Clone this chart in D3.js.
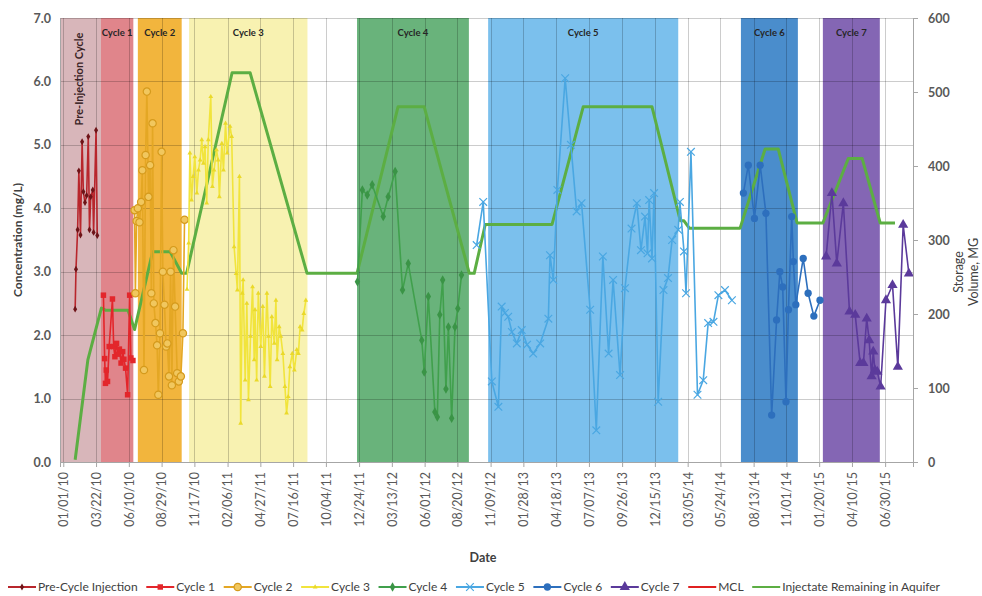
<!DOCTYPE html>
<html>
<head>
<meta charset="utf-8">
<script src="https://cdn.jsdelivr.net/npm/d3@7"></script>
<style>
    body { margin: 0; background: #fff; }
    svg { font-family: Lato, "Open Sans", sans-serif; }
</style>
</head>
<body>
<div id="main"></div>
<script>
const ctx = {
    W: 982,
    H: 596,
    left: 60,
    top: 18,
    right: 913,
    bottom: 462,
};

// ---- data ----
const xMin = "2009-12-24";
const xMax = "2015-09-06";
const tickDates = ["01/01/10", "03/22/10", "06/10/10", "08/29/10", "11/17/10", "02/06/11", "04/27/11",
    "07/16/11", "10/04/11", "12/24/11", "03/13/12", "06/01/12", "08/20/12", "11/09/12", "01/28/13",
    "04/18/13", "07/07/13", "09/26/13", "12/15/13", "03/05/14", "05/24/14", "08/13/14", "11/01/14",
    "01/20/15", "04/10/15", "06/30/15"];
const concTicks = [0, 1, 2, 3, 4, 5, 6, 7];
const volTicks = [0, 100, 200, 300, 400, 500, 600];

const cycleNames = ["Pre-Injection Cycle", "Cycle 1", "Cycle 2", "Cycle 3", "Cycle 4", "Cycle 5", "Cycle 6", "Cycle 7"];
const cycleStart = ["2009-12-24", "2010-04-03", "2010-07-02", "2010-11-04", "2011-12-19", "2012-11-03", "2014-07-13", "2015-01-29"];
const cycleEnd = ["2010-04-03", "2010-06-21", "2010-10-17", "2011-08-20", "2012-09-17", "2014-02-10", "2014-11-29", "2015-06-17"];

const mclValue = 10;

const preCycle = [["2010-01-30", 2.41], ["2010-02-01", 3.04], ["2010-02-05", 3.66], ["2010-02-08", 4.59],
    ["2010-02-12", 3.58], ["2010-02-16", 5.05], ["2010-02-19", 4.26], ["2010-02-23", 4.09], ["2010-02-27", 4.20],
    ["2010-03-03", 5.13], ["2010-03-06", 3.66], ["2010-03-09", 4.18], ["2010-03-14", 4.29], ["2010-03-16", 3.62],
    ["2010-03-22", 5.23], ["2010-03-25", 3.57]];

const cycle1 = [["2010-04-09", 2.63], ["2010-04-12", 1.63], ["2010-04-14", 1.24], ["2010-04-16", 1.45],
    ["2010-04-19", 1.27], ["2010-04-23", 1.82], ["2010-05-01", 2.57], ["2010-05-04", 1.82], ["2010-05-07", 1.66],
    ["2010-05-11", 1.87], ["2010-05-15", 1.70], ["2010-05-18", 1.78], ["2010-05-22", 1.56], ["2010-05-26", 1.74],
    ["2010-05-29", 1.62], ["2010-06-02", 1.48], ["2010-06-07", 1.06], ["2010-06-12", 2.63], ["2010-06-15", 1.64],
    ["2010-06-20", 1.60]];

const cycle2 = [["2010-06-24", 3.97], ["2010-06-26", 2.66], ["2010-06-29", 3.80], ["2010-07-02", 4.00],
    ["2010-07-06", 3.78], ["2010-07-10", 4.10], ["2010-07-13", 4.60], ["2010-07-17", 1.45], ["2010-07-21", 4.84],
    ["2010-07-24", 5.84], ["2010-07-28", 4.18], ["2010-08-01", 4.68], ["2010-08-04", 2.66], ["2010-08-07", 5.34],
    ["2010-08-10", 2.50], ["2010-08-14", 2.19], ["2010-08-18", 1.84], ["2010-08-21", 1.06], ["2010-08-25", 2.03],
    ["2010-08-29", 4.89], ["2010-09-01", 3.00], ["2010-09-05", 2.48], ["2010-09-09", 1.82], ["2010-09-12", 1.87],
    ["2010-09-16", 1.35], ["2010-09-20", 3.00], ["2010-09-23", 1.21], ["2010-09-27", 3.34], ["2010-10-01", 2.45],
    ["2010-10-06", 1.40], ["2010-10-10", 1.27], ["2010-10-15", 1.35], ["2010-10-20", 2.03], ["2010-10-24", 3.82]];

const cycle3 = [["2010-10-30", 2.72], ["2010-11-03", 3.45], ["2010-11-06", 4.87], ["2010-11-10", 4.13],
    ["2010-11-14", 4.50], ["2010-11-18", 4.81], ["2010-11-23", 4.24], ["2010-11-27", 4.60], ["2010-12-01", 4.76],
    ["2010-12-05", 5.08], ["2010-12-09", 4.71], ["2010-12-13", 4.97], ["2010-12-17", 4.08], ["2010-12-21", 5.08],
    ["2010-12-27", 5.76], ["2010-12-31", 4.34], ["2011-01-04", 4.60], ["2011-01-10", 4.92], ["2011-01-14", 4.76],
    ["2011-01-17", 4.18], ["2011-01-23", 5.02], ["2011-01-27", 4.60], ["2011-02-01", 5.34], ["2011-02-05", 4.87],
    ["2011-02-12", 5.29], ["2011-02-16", 5.13], ["2011-02-22", 3.39], ["2011-02-27", 2.97], ["2011-03-02", 2.71],
    ["2011-03-07", 4.50], ["2011-03-10", 0.61], ["2011-03-14", 2.66], ["2011-03-16", 2.87], ["2011-03-21", 1.29],
    ["2011-03-25", 2.50], ["2011-03-29", 0.98], ["2011-04-03", 1.98], ["2011-04-08", 2.76], ["2011-04-12", 1.61],
    ["2011-04-14", 2.40], ["2011-04-18", 1.29], ["2011-04-22", 2.66], ["2011-04-28", 1.82], ["2011-05-03", 2.45],
    ["2011-05-07", 1.35], ["2011-05-13", 2.66], ["2011-05-17", 1.98], ["2011-05-21", 1.19], ["2011-05-25", 2.29],
    ["2011-05-31", 1.87], ["2011-06-04", 2.55], ["2011-06-07", 1.61], ["2011-06-12", 2.13], ["2011-06-16", 1.98],
    ["2011-06-21", 1.71], ["2011-06-26", 1.19], ["2011-06-30", 0.77], ["2011-07-04", 1.03], ["2011-07-08", 1.50],
    ["2011-07-14", 1.71], ["2011-07-19", 1.45], ["2011-07-25", 1.77], ["2011-07-29", 1.71], ["2011-08-02", 2.13],
    ["2011-08-07", 2.08], ["2011-08-11", 2.34], ["2011-08-16", 2.55]];

const cycle4 = [["2011-12-20", 2.84], ["2012-01-01", 4.29], ["2012-01-13", 4.21], ["2012-01-25", 4.37],
    ["2012-02-21", 3.87], ["2012-03-04", 4.18], ["2012-03-21", 4.58], ["2012-04-08", 2.71], ["2012-04-22", 3.13],
    ["2012-05-25", 1.92], ["2012-05-31", 1.42], ["2012-06-10", 2.61], ["2012-06-26", 0.79], ["2012-07-02", 0.71],
    ["2012-07-08", 2.32], ["2012-07-15", 2.87], ["2012-07-23", 1.15], ["2012-07-29", 2.13], ["2012-08-06", 0.69],
    ["2012-08-14", 2.13], ["2012-08-21", 2.42], ["2012-08-30", 2.95]];

const cycle5 = [["2012-10-06", 3.42], ["2012-10-22", 4.10], ["2012-11-12", 1.27], ["2012-11-28", 0.87],
    ["2012-12-06", 2.45], ["2012-12-14", 2.35], ["2012-12-22", 2.29], ["2012-12-31", 2.05], ["2013-01-12", 1.87],
    ["2013-01-24", 2.08], ["2013-02-06", 1.85], ["2013-02-21", 1.71], ["2013-03-10", 1.87], ["2013-03-30", 2.26],
    ["2013-04-03", 3.26], ["2013-04-11", 2.87], ["2013-04-21", 4.29], ["2013-05-10", 6.05], ["2013-05-24", 5.00],
    ["2013-06-07", 3.95], ["2013-06-19", 4.08], ["2013-07-10", 2.40], ["2013-07-25", 0.50], ["2013-08-10", 3.24],
    ["2013-08-24", 1.71], ["2013-09-04", 2.87], ["2013-09-21", 1.37], ["2013-10-03", 2.74], ["2013-10-19", 3.68],
    ["2013-11-01", 4.08], ["2013-11-11", 3.34], ["2013-11-21", 3.87], ["2013-11-27", 3.29], ["2013-12-01", 4.13],
    ["2013-12-08", 3.21], ["2013-12-13", 4.24], ["2013-12-23", 0.95], ["2014-01-05", 2.71], ["2014-01-16", 2.90],
    ["2014-01-26", 3.50], ["2014-02-10", 3.66], ["2014-02-14", 4.10], ["2014-02-24", 3.32], ["2014-03-01", 2.66],
    ["2014-03-13", 4.89], ["2014-03-29", 1.06], ["2014-04-12", 1.29], ["2014-04-24", 2.19], ["2014-05-07", 2.21],
    ["2014-05-19", 2.63], ["2014-06-04", 2.71], ["2014-06-21", 2.55]];

const cycle6 = [["2014-07-19", 4.24], ["2014-07-31", 4.68], ["2014-08-15", 3.84], ["2014-08-29", 4.68],
    ["2014-09-12", 3.92], ["2014-09-26", 0.74], ["2014-10-08", 2.24], ["2014-10-16", 3.00], ["2014-10-23", 2.76],
    ["2014-10-31", 0.95], ["2014-11-06", 2.40], ["2014-11-14", 3.87], ["2014-11-18", 3.16], ["2014-11-24", 2.48],
    ["2014-12-12", 3.21], ["2014-12-24", 2.66], ["2015-01-07", 2.30], ["2015-01-22", 2.55]];

const cycle7 = [["2015-02-06", 3.24], ["2015-02-20", 4.24], ["2015-03-04", 3.13], ["2015-03-20", 4.08],
    ["2015-04-04", 2.37], ["2015-04-18", 2.32], ["2015-04-30", 1.56], ["2015-05-08", 1.56], ["2015-05-16", 2.26],
    ["2015-05-22", 1.92], ["2015-05-28", 1.35], ["2015-06-01", 1.74], ["2015-06-05", 1.45], ["2015-06-11", 1.42],
    ["2015-06-19", 1.19], ["2015-07-02", 2.55], ["2015-07-18", 2.79], ["2015-07-31", 1.50], ["2015-08-13", 3.74],
    ["2015-08-27", 2.97]];

// storage volume (MG), right axis
const injectate = [["2010-01-30", 3], ["2010-03-02", 138], ["2010-04-04", 208], ["2010-04-15", 205],
    ["2010-06-08", 205], ["2010-06-24", 179], ["2010-08-07", 284], ["2010-09-19", 284], ["2010-10-17", 255],
    ["2010-10-29", 255], ["2011-02-17", 526], ["2011-04-02", 526], ["2011-08-19", 255], ["2011-12-19", 255],
    ["2012-03-28", 480], ["2012-05-31", 480], ["2012-09-18", 255], ["2012-09-30", 255], ["2012-10-27", 321],
    ["2013-04-08", 321], ["2013-06-23", 480], ["2013-12-08", 480], ["2014-02-15", 326], ["2014-02-24", 326],
    ["2014-03-09", 316], ["2014-07-11", 316], ["2014-09-10", 423], ["2014-10-12", 423], ["2014-11-27", 323],
    ["2015-01-29", 323], ["2015-04-01", 410], ["2015-05-05", 410], ["2015-06-18", 323], ["2015-07-24", 323]];

// ---- styles ----
const bandColors = ["#d8b6ba", "#e0858b", "#f2b53d", "#f8f2b1", "#69b37b", "#7bc0ed", "#4a8dcc", "#8466b4"];

const seriesStyle = [
    { name: "Pre-Cycle Injection", data: preCycle, color: "#b8262c", marker: d3.symbolDiamond, size: 14, fill: "#6e1418" },
    { name: "Cycle 1", data: cycle1, color: "#e3262b", marker: d3.symbolSquare, size: 30, fill: "#e3262b" },
    { name: "Cycle 2", data: cycle2, color: "#e4a724", marker: d3.symbolCircle, size: 42, fill: "#f1c75e", stroke: "#d59a1c" },
    { name: "Cycle 3", data: cycle3, color: "#f1e43c", marker: d3.symbolTriangle, size: 10, fill: "#ead92a" },
    { name: "Cycle 4", data: cycle4, color: "#40a04c", marker: d3.symbolDiamond, size: 26, fill: "#3a9446" },
    { name: "Cycle 5", data: cycle5, color: "#4aa7e2", marker: d3.symbolX, size: 40, stroke: "#4aa7e2" },
    { name: "Cycle 6", data: cycle6, color: "#2d6fbd", marker: d3.symbolCircle, size: 42, fill: "#2d6fbd" },
    { name: "Cycle 7", data: cycle7, color: "#5b3a9b", marker: d3.symbolTriangle, size: 45, fill: "#5b3a9b" },
];

const parseIso = d3.timeParse("%Y-%m-%d");
const parseTick = d3.timeParse("%m/%d/%y");

function createViz() {
    const svg = d3.select("#main").append("svg")
        .attr("width", ctx.W)
        .attr("height", ctx.H);

    const x = d3.scaleTime()
        .domain([parseIso(xMin), parseIso(xMax)])
        .range([ctx.left, ctx.right]);
    const yC = d3.scaleLinear().domain([0, 7]).range([ctx.bottom, ctx.top]);
    const yV = d3.scaleLinear().domain([0, 600]).range([ctx.bottom, ctx.top]);

    svg.append("clipPath").attr("id", "plot-clip")
        .append("rect")
        .attr("x", ctx.left).attr("y", ctx.top)
        .attr("width", ctx.right - ctx.left).attr("height", ctx.bottom - ctx.top);

    // cycle bands
    svg.append("g").selectAll("rect")
        .data(cycleNames)
        .enter().append("rect")
        .attr("x", (d, i) => x(parseIso(cycleStart[i])))
        .attr("y", ctx.top)
        .attr("width", (d, i) => x(parseIso(cycleEnd[i])) - x(parseIso(cycleStart[i])))
        .attr("height", ctx.bottom - ctx.top)
        .style("fill", (d, i) => bandColors[i]);

    // gridlines (drawn over bands, semi-transparent)
    const grid = svg.append("g").style("stroke", "rgba(0,0,0,0.2)").style("stroke-width", 1);
    grid.selectAll(".hg").data(concTicks).enter().append("line")
        .attr("x1", ctx.left).attr("x2", ctx.right)
        .attr("y1", d => Math.round(yC(d)) + 0.5).attr("y2", d => Math.round(yC(d)) + 0.5);
    grid.selectAll(".vg").data(tickDates).enter().append("line")
        .attr("x1", d => Math.round(x(parseTick(d))) + 0.5).attr("x2", d => Math.round(x(parseTick(d))) + 0.5)
        .attr("y1", ctx.top).attr("y2", ctx.bottom);
    grid.append("line")
        .attr("x1", ctx.right + 0.5).attr("x2", ctx.right + 0.5)
        .attr("y1", ctx.top).attr("y2", ctx.bottom);

    // cycle labels
    svg.append("g").selectAll("text")
        .data(cycleNames.slice(1))
        .enter().append("text")
        .attr("x", (d, i) => (x(parseIso(cycleStart[i + 1])) + x(parseIso(cycleEnd[i + 1]))) / 2)
        .attr("y", 36)
        .attr("text-anchor", "middle")
        .style("font-size", "9.5px")
        .style("font-weight", "bold")
        .style("fill", "#262626")
        .text(d => d);
    svg.append("text")
        .attr("transform", `translate(${(x(parseIso(cycleStart[0])) + x(parseIso(cycleEnd[0]))) / 2 + 3},79) rotate(-90)`)
        .attr("text-anchor", "middle")
        .style("font-size", "11px")
        .style("font-weight", "bold")
        .style("fill", "#3a2426")
        .text(cycleNames[0]);

    drawAxes(svg, x, yC, yV);

    // concentration series
    const plot = svg.append("g").attr("clip-path", "url(#plot-clip)");
    const line = d3.line().x(d => x(parseIso(d[0]))).y(d => yC(d[1]));

    // MCL sits above the 0-7 range, so the clip hides it
    plot.append("line")
        .attr("x1", ctx.left).attr("x2", ctx.right)
        .attr("y1", yC(mclValue)).attr("y2", yC(mclValue))
        .style("stroke", "#e02020").style("stroke-width", 2);

    // injectate remaining (right axis)
    const vline = d3.line().x(d => x(parseIso(d[0]))).y(d => yV(d[1]));
    plot.append("path")
        .attr("d", vline(injectate))
        .style("fill", "none")
        .style("stroke", "#5cae43")
        .style("stroke-width", 3)
        .style("stroke-linejoin", "round");

    seriesStyle.forEach(s => {
        const g = plot.append("g");
        g.append("path")
            .attr("d", line(s.data))
            .style("fill", "none")
            .style("stroke", s.color)
            .style("stroke-width", 1.6)
            .style("stroke-linejoin", "round");
        g.selectAll("path.m").data(s.data).enter().append("path")
            .attr("class", "m")
            .attr("transform", d => `translate(${x(parseIso(d[0]))},${yC(d[1])})`)
            .attr("d", d3.symbol().type(s.marker).size(s.size))
            .style("fill", s.fill || "none")
            .style("stroke", s.stroke || "none")
            .style("stroke-width", s.stroke ? 1.2 : 0);
    });

    drawLegend(svg);
}

function drawAxes(svg, x, yC, yV) {
    const axisColor = "#a6a6a6";
    const labelColor = "#595959";

    const gl = svg.append("g")
        .attr("transform", `translate(${ctx.left},0)`)
        .call(d3.axisLeft(yC).tickValues(concTicks).tickFormat(d3.format(".1f")).tickSize(0).tickPadding(9));
    gl.select(".domain").style("stroke", axisColor);
    gl.selectAll("text").style("font-size", "12.5px").style("font-weight", "bold").style("fill", labelColor)
        .style("font-family", "Lato, sans-serif");

    const gr = svg.append("g")
        .attr("transform", `translate(${ctx.right},0)`)
        .call(d3.axisRight(yV).tickValues(volTicks).tickFormat(d3.format("d")).tickSize(5).tickPadding(10));
    gr.select(".domain").style("stroke", axisColor);
    gr.selectAll("line").style("stroke", axisColor);
    gr.selectAll("text").style("font-size", "12.5px").style("font-weight", "bold").style("fill", labelColor)
        .style("font-family", "Lato, sans-serif");

    const gb = svg.append("g")
        .attr("transform", `translate(0,${ctx.bottom})`)
        .call(d3.axisBottom(x).tickValues(tickDates.map(parseTick)).tickFormat(d3.timeFormat("%m/%d/%y")).tickSize(5));
    gb.select(".domain").style("stroke", axisColor);
    gb.selectAll("line").style("stroke", axisColor);
    gb.selectAll("text")
        .attr("transform", "rotate(-90)")
        .attr("text-anchor", "end")
        .attr("x", -10)
        .attr("y", 0)
        .attr("dy", "0.35em")
        .style("font-size", "12.5px")
        .style("fill", labelColor)
        .style("font-family", "Lato, sans-serif");

    svg.append("text")
        .attr("transform", "translate(22,240) rotate(-90)")
        .attr("text-anchor", "middle")
        .style("font-size", "12px").style("font-weight", "bold").style("fill", "#404040")
        .text("Concentration (mg/L)");

    const rt = svg.append("text")
        .attr("transform", "translate(963,272) rotate(-90)")
        .attr("text-anchor", "middle")
        .style("font-size", "12.5px").style("fill", "#404040");
    rt.append("tspan").attr("x", 0).attr("dy", 0).text("Storage");
    rt.append("tspan").attr("x", 0).attr("dy", 15).text("Volume, MG");

    svg.append("text")
        .attr("x", 483).attr("y", 562)
        .attr("text-anchor", "middle")
        .style("font-size", "12.5px").style("font-weight", "bold").style("fill", "#404040")
        .text("Date");
}

function drawLegend(svg) {
    const items = seriesStyle.map(s => ({ name: s.name, color: s.color, marker: s.marker, size: s.size, fill: s.fill, stroke: s.stroke }))
        .concat([
            { name: "MCL", color: "#e02020" },
            { name: "Injectate Remaining in Aquifer", color: "#5cae43" },
        ]);
    const g = svg.append("g").attr("transform", "translate(0,587)");
    const groups = items.map(it => {
        const lg = g.append("g");
        lg.append("line")
            .attr("x1", 0).attr("x2", 28).attr("y1", 0).attr("y2", 0)
            .style("stroke", it.color).style("stroke-width", 2);
        if (it.marker) {
            lg.append("path")
                .attr("transform", "translate(14,0)")
                .attr("d", d3.symbol().type(it.marker).size(it.size))
                .style("fill", it.fill || "none")
                .style("stroke", it.stroke || "none")
                .style("stroke-width", it.stroke ? 1.2 : 0);
        }
        const t = lg.append("text")
            .attr("x", 30).attr("y", 0).attr("dy", "0.35em")
            .style("font-size", "12px").style("fill", "#404040")
            .text(it.name);
        return { lg, w: 30 + t.node().getComputedTextLength() };
    });
    // spread items between x=8 and x=940
    const total = d3.sum(groups, d => d.w);
    const gap = Math.max(4, (940 - 8 - total) / (groups.length - 1));
    let cx = 8;
    groups.forEach(d => {
        d.lg.attr("transform", `translate(${cx},0)`);
        cx += d.w + gap;
    });
}

createViz();
</script>
</body>
</html>
